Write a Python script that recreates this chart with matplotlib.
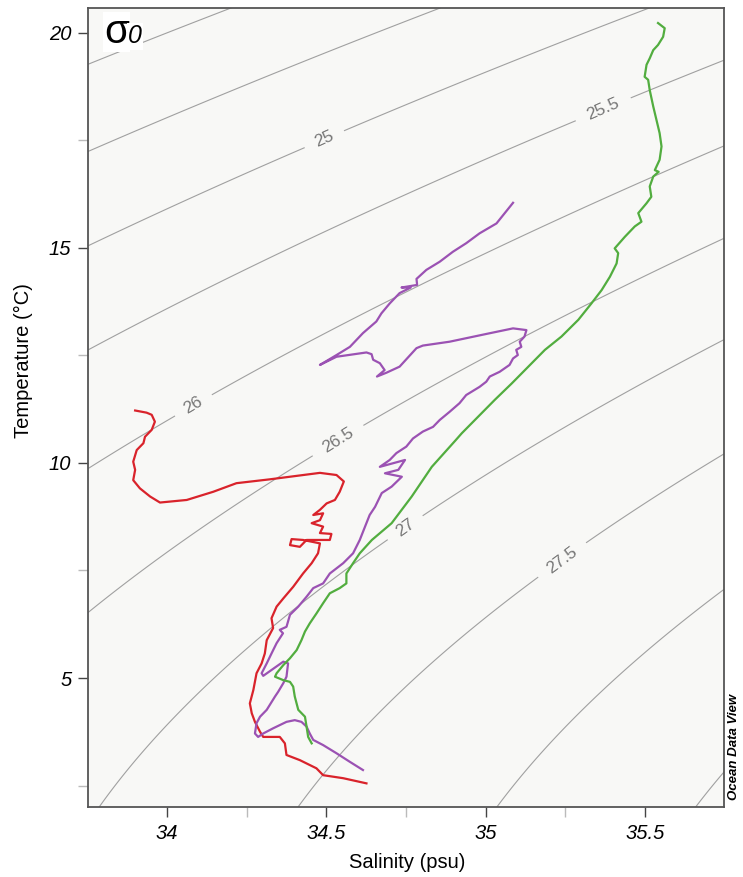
import numpy as np
import matplotlib
matplotlib.use('Agg')
import matplotlib.pyplot as plt
from matplotlib.ticker import MultipleLocator

plt.rcParams['font.family'] = ['Liberation Sans', 'DejaVu Sans']

# --- profils T/S ---
red_sal = [33.900, 33.936, 33.952, 33.962, 33.952, 33.931, 33.926, 33.905, 33.894, 33.900,
           33.894, 33.915, 33.947, 33.978, 34.062, 34.145, 34.218, 34.323, 34.480, 34.532,
           34.555, 34.542, 34.527, 34.501, 34.480, 34.459, 34.490, 34.480, 34.454, 34.490,
           34.480, 34.516, 34.511, 34.438, 34.417, 34.386, 34.391, 34.427, 34.480, 34.474,
           34.454, 34.427, 34.396, 34.365, 34.344, 34.328, 34.333, 34.313, 34.307, 34.297,
           34.281, 34.271, 34.260, 34.266, 34.276, 34.292, 34.302, 34.354, 34.370, 34.375,
           34.417, 34.469, 34.490, 34.553, 34.626]
red_temp = [11.22, 11.17, 11.12, 10.96, 10.77, 10.61, 10.46, 10.30, 10.03, 9.84,
            9.60, 9.41, 9.22, 9.08, 9.14, 9.33, 9.53, 9.62, 9.77, 9.72,
            9.57, 9.33, 9.14, 9.06, 8.91, 8.79, 8.83, 8.67, 8.60, 8.52,
            8.37, 8.35, 8.21, 8.21, 8.05, 8.09, 8.23, 8.21, 8.13, 7.90,
            7.67, 7.43, 7.12, 6.85, 6.66, 6.39, 6.16, 5.88, 5.57, 5.34,
            5.11, 4.72, 4.41, 4.18, 3.98, 3.75, 3.63, 3.63, 3.48, 3.21,
            3.09, 2.90, 2.74, 2.67, 2.55]

purple_sal = [35.086, 35.034, 34.981, 34.939, 34.897, 34.856, 34.814, 34.783, 34.785, 34.736,
              34.765, 34.730, 34.699, 34.673, 34.657, 34.615, 34.574, 34.532, 34.480, 34.532,
              34.626, 34.642, 34.647, 34.668, 34.683, 34.659, 34.689, 34.730, 34.783, 34.803,
              34.887, 35.002, 35.086, 35.128, 35.122, 35.107, 35.112, 35.096, 35.101, 35.086,
              35.075, 35.044, 35.013, 35.002, 34.981, 34.939, 34.918, 34.887, 34.856, 34.835,
              34.803, 34.772, 34.751, 34.720, 34.699, 34.668, 34.747, 34.726, 34.684, 34.737,
              34.705, 34.674, 34.653, 34.636, 34.621, 34.605, 34.584, 34.553, 34.511, 34.490,
              34.459, 34.438, 34.412, 34.386, 34.375, 34.354, 34.364, 34.344, 34.328, 34.313,
              34.297, 34.302, 34.365, 34.380, 34.375, 34.365, 34.349, 34.339, 34.313, 34.292,
              34.281, 34.276, 34.286, 34.302, 34.333, 34.375, 34.401, 34.422, 34.438, 34.448,
              34.459, 34.490, 34.532, 34.574, 34.615]
purple_temp = [16.05, 15.57, 15.34, 15.11, 14.91, 14.68, 14.49, 14.28, 14.14, 14.08,
               14.08, 13.95, 13.71, 13.48, 13.29, 13.02, 12.70, 12.51, 12.28, 12.47,
               12.57, 12.53, 12.40, 12.32, 12.16, 12.01, 12.10, 12.24, 12.67, 12.73,
               12.82, 13.00, 13.13, 13.09, 12.94, 12.82, 12.70, 12.63, 12.51, 12.43,
               12.28, 12.12, 12.01, 11.89, 11.77, 11.58, 11.39, 11.19, 11.00, 10.84,
               10.73, 10.57, 10.38, 10.23, 10.07, 9.91, 10.07, 9.84, 9.76, 9.68,
               9.45, 9.30, 8.98, 8.79, 8.51, 8.21, 7.90, 7.67, 7.43, 7.20,
               7.09, 6.89, 6.66, 6.47, 6.19, 6.12, 6.04, 5.81, 5.57, 5.34,
               5.11, 5.05, 5.38, 5.34, 5.03, 4.88, 4.68, 4.57, 4.26, 4.10,
               3.95, 3.71, 3.63, 3.71, 3.83, 3.98, 4.02, 3.98, 3.87, 3.71,
               3.56, 3.44, 3.25, 3.05, 2.86]

green_sal = [35.541, 35.562, 35.557, 35.541, 35.526, 35.515, 35.505, 35.499, 35.510, 35.515,
             35.526, 35.536, 35.546, 35.552, 35.546, 35.531, 35.543, 35.526, 35.515, 35.520,
             35.505, 35.479, 35.489, 35.468, 35.437, 35.405, 35.416, 35.411, 35.390, 35.364,
             35.332, 35.291, 35.238, 35.186, 35.134, 35.082, 35.029, 34.977, 34.925, 34.906,
             34.831, 34.768, 34.705, 34.643, 34.605, 34.584, 34.563, 34.563, 34.542, 34.511,
             34.490, 34.469, 34.448, 34.433, 34.422, 34.407, 34.386, 34.365, 34.344, 34.339,
             34.365, 34.386, 34.396, 34.401, 34.412, 34.433, 34.438, 34.443, 34.454]
green_temp = [20.23, 20.11, 19.91, 19.72, 19.60, 19.41, 19.26, 18.98, 18.91, 18.67,
              18.29, 17.98, 17.67, 17.36, 17.05, 16.81, 16.77, 16.66, 16.43, 16.19,
              16.04, 15.81, 15.61, 15.50, 15.26, 14.99, 14.88, 14.64, 14.33, 14.02,
              13.71, 13.33, 12.94, 12.63, 12.24, 11.85, 11.47, 11.08, 10.69, 10.53,
              9.91, 9.22, 8.60, 8.21, 7.90, 7.67, 7.43, 7.20, 7.09, 6.97,
              6.74, 6.50, 6.27, 6.08, 5.88, 5.65, 5.46, 5.30, 5.11, 5.03,
              4.95, 4.91, 4.80, 4.57, 4.26, 4.10, 3.87, 3.63, 3.48]

# isopycnes sigma-0
plain_levels = [23.5, 24, 24.5, 28, 28.5, 29]
label_levels = [25, 25.5, 26, 26.5, 27, 27.5]
label_pos = [(34.495, 17.51), (35.373, 18.16), (34.088, 11.28),
             (34.536, 10.53), (34.746, 8.51), (35.248, 7.67)]

sal_ticks = [34, 34.5, 35, 35.5]
temp_ticks = [5, 10, 15, 20]


def sigma0(S, T):
    """Densité potentielle UNESCO EOS-80 à p=0, moins 1000."""
    rw = (999.842594 + 6.793952e-2 * T - 9.095290e-3 * T**2 + 1.001685e-4 * T**3
          - 1.120083e-6 * T**4 + 6.536332e-9 * T**5)
    a = 0.824493 - 4.0899e-3 * T + 7.6438e-5 * T**2 - 8.2467e-7 * T**3 + 5.3875e-9 * T**4
    b = -5.72466e-3 + 1.0227e-4 * T - 1.6546e-6 * T**2
    return rw + a * S + b * S**1.5 + 4.8314e-4 * S**2 - 1000.0


fig = plt.figure(figsize=(7.43, 8.77), dpi=100)
ax = fig.add_axes([0.1184, 0.0798, 0.856, 0.9111])
ax.set_facecolor('#f8f8f6')

SS, TT = np.meshgrid(np.linspace(33.6, 35.9, 300), np.linspace(1.0, 21.5, 300))
sig = sigma0(SS, TT)
ax.contour(SS, TT, sig, levels=plain_levels, colors='#a0a0a0', linewidths=0.8)
cs = ax.contour(SS, TT, sig, levels=label_levels, colors='#a0a0a0', linewidths=0.8)
ax.clabel(cs, manual=label_pos, fmt='%g', fontsize=12.5, colors='#777777',
          inline=True, inline_spacing=9)

ax.plot(red_sal, red_temp, color='#d9232b', lw=1.6)
ax.plot(purple_sal, purple_temp, color='#9b52b3', lw=1.6)
ax.plot(green_sal, green_temp, color='#52ad3f', lw=1.6)

ax.set_xlim(33.752, 35.748)
ax.set_ylim(2.0, 20.58)
ax.set_xticks(sal_ticks)
ax.set_xticklabels([f'{v:g}' for v in sal_ticks])
ax.set_yticks(temp_ticks)
ax.xaxis.set_minor_locator(MultipleLocator(0.25))
ax.yaxis.set_minor_locator(MultipleLocator(2.5))
ax.tick_params(which='major', direction='out', length=7, width=1.0,
               color='#444444', labelsize=14.5, pad=5)
ax.tick_params(which='minor', direction='out', length=7, width=1.0, color='#bbbbbb')
for lab in ax.get_xticklabels() + ax.get_yticklabels():
    lab.set_fontstyle('italic')
for sp in ax.spines.values():
    sp.set_color('#555555')
    sp.set_linewidth(1.3)

fig.text(23 / 743, 1 - 361 / 877, 'Temperature (°C)', rotation=90,
         ha='center', va='center', fontsize=14.5)
fig.text(407 / 743, 1 - 863 / 877, 'Salinity (psu)', ha='center', va='center',
         fontsize=14.5)
fig.text(104 / 743, 1 - 43 / 877, 'σ', fontsize=29, ha='left', va='baseline',
         bbox=dict(facecolor='white', edgecolor='none', pad=1))
fig.text(128 / 743, 1 - 43 / 877, '0', fontsize=18, fontstyle='italic',
         ha='left', va='baseline',
         bbox=dict(facecolor='white', edgecolor='none', pad=1))
fig.text(734 / 743, 1 - 747 / 877, 'Ocean Data View', rotation=90, ha='center',
         va='center', fontsize=9.5, fontweight='bold', fontstyle='italic')

fig.savefig('out.png', dpi=100, facecolor='white')
